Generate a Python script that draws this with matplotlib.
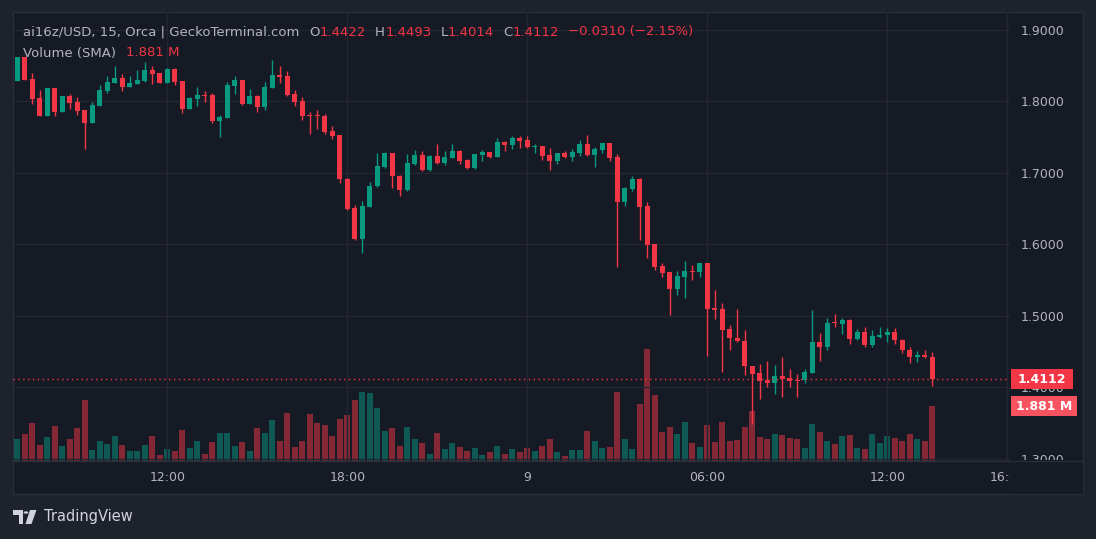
import numpy as np
import pandas as pd
import matplotlib
matplotlib.use("Agg")
import matplotlib.pyplot as plt
from matplotlib.patches import Rectangle, Polygon, Circle

# ai16z/USD 15 min candles, 8th 07:00 -> 9th 13:30
start_time = "2025-01-08 07:00"

opens = [1.8289, 1.8618, 1.8312, 1.8045, 1.7796, 1.8181, 1.7852, 1.8068, 1.7993, 1.7876,
         1.7693, 1.7937, 1.8143, 1.8261, 1.8327, 1.8204, 1.8242, 1.8289, 1.8439, 1.8397,
         1.8261, 1.8453, 1.8280, 1.7890, 1.8031, 1.8087, 1.8087, 1.7726, 1.7768, 1.8219,
         1.8298, 1.7960, 1.8073, 1.7923, 1.8186, 1.8369, 1.8355, 1.8101, 1.8003, 1.7810,
         1.7810, 1.7791, 1.7580, 1.7524, 1.6918, 1.6510, 1.6073, 1.6528, 1.6810, 1.7087,
         1.7270, 1.6960, 1.6754, 1.7129, 1.7242, 1.7035, 1.7228, 1.7134, 1.7204, 1.7298,
         1.7172, 1.7064, 1.7242, 1.7284, 1.7219, 1.7425, 1.7383, 1.7481, 1.7453, 1.7355,
         1.7369, 1.7242, 1.7158, 1.7270, 1.7214, 1.7270, 1.7397, 1.7242, 1.7312, 1.7411,
         1.7214, 1.6594, 1.6777, 1.6918, 1.6538, 1.6003, 1.5693, 1.5608, 1.5369, 1.5538,
         1.5622, 1.5608, 1.5735, 1.5115, 1.5101, 1.4817, 1.4690, 1.4652, 1.4300, 1.4202,
         1.4103, 1.4066, 1.4159, 1.4131, 1.4108, 1.4098, 1.4206, 1.4638, 1.4558, 1.4911,
         1.4882, 1.4948, 1.4671, 1.4779, 1.4587, 1.4709, 1.4728, 1.4779, 1.4666, 1.4526,
         1.4418, 1.4455, 1.4422]
highs = [1.8625, 1.8625, 1.8397, 1.8158, 1.8185, 1.8185, 1.8072, 1.8101, 1.8054, 1.7880,
         1.7993, 1.8228, 1.8350, 1.8491, 1.8378, 1.8350, 1.8439, 1.8547, 1.8491, 1.8400,
         1.8463, 1.8463, 1.8284, 1.8054, 1.8200, 1.8139, 1.8115, 1.7805, 1.8266, 1.8350,
         1.8302, 1.8172, 1.8087, 1.8270, 1.8580, 1.8496, 1.8425, 1.8158, 1.8059, 1.7848,
         1.7876, 1.7820, 1.7650, 1.7528, 1.6922, 1.6552, 1.6608, 1.6876, 1.7270, 1.7284,
         1.7274, 1.6964, 1.7256, 1.7312, 1.7298, 1.7242, 1.7397, 1.7298, 1.7397, 1.7312,
         1.7186, 1.7260, 1.7312, 1.7288, 1.7481, 1.7439, 1.7510, 1.7510, 1.7510, 1.7397,
         1.7373, 1.7341, 1.7274, 1.7298, 1.7327, 1.7453, 1.7524, 1.7355, 1.7415, 1.7415,
         1.7256, 1.6795, 1.6960, 1.6922, 1.6594, 1.6007, 1.5735, 1.5612, 1.5622, 1.5763,
         1.5707, 1.5739, 1.5739, 1.5355, 1.5172, 1.4878, 1.5089, 1.4807, 1.4304, 1.4328,
         1.4371, 1.4314, 1.4427, 1.4258, 1.4188, 1.4258, 1.5075, 1.4765, 1.4976, 1.5019,
         1.4976, 1.4962, 1.4821, 1.4850, 1.4807, 1.4850, 1.4835, 1.4835, 1.4670, 1.4568,
         1.4512, 1.4526, 1.4493]
lows = [1.8285, 1.8300, 1.7960, 1.7790, 1.7790, 1.7796, 1.7848, 1.7890, 1.7810, 1.7327,
        1.7690, 1.7935, 1.8120, 1.8258, 1.8143, 1.8200, 1.8238, 1.8275, 1.8242, 1.8258,
        1.8258, 1.8233, 1.7843, 1.7886, 1.7937, 1.7993, 1.7693, 1.7500, 1.7765, 1.8101,
        1.7951, 1.7956, 1.7852, 1.7881, 1.8183, 1.8261, 1.8078, 1.7937, 1.7740, 1.7543,
        1.7613, 1.7543, 1.7472, 1.6852, 1.6486, 1.6059, 1.5881, 1.6524, 1.6796, 1.7073,
        1.6782, 1.6669, 1.6750, 1.7106, 1.7031, 1.7031, 1.7130, 1.7106, 1.7200, 1.7120,
        1.7060, 1.7050, 1.7162, 1.7200, 1.7215, 1.7298, 1.7327, 1.7341, 1.7350, 1.7270,
        1.7172, 1.7045, 1.7129, 1.7210, 1.7158, 1.7228, 1.7238, 1.7087, 1.7270, 1.7158,
        1.5679, 1.6538, 1.6749, 1.6059, 1.5805, 1.5636, 1.5538, 1.5017, 1.5284, 1.5242,
        1.5496, 1.5538, 1.4439, 1.4960, 1.4214, 1.4526, 1.4640, 1.4178, 1.3483, 1.3840,
        1.4009, 1.3911, 1.3868, 1.4009, 1.3868, 1.4066, 1.4202, 1.4361, 1.4516, 1.4850,
        1.4751, 1.4601, 1.4667, 1.4558, 1.4558, 1.4695, 1.4629, 1.4601, 1.4474, 1.4333,
        1.4347, 1.4414, 1.4014]
closes = [1.8618, 1.8303, 1.8031, 1.7796, 1.8181, 1.7852, 1.8068, 1.7974, 1.7866, 1.7693,
          1.7946, 1.8158, 1.8270, 1.8327, 1.8204, 1.8261, 1.8298, 1.8439, 1.8383, 1.8261,
          1.8453, 1.8275, 1.7890, 1.8040, 1.8087, 1.8073, 1.7726, 1.7777, 1.8228, 1.8298,
          1.7965, 1.8073, 1.7923, 1.8200, 1.8369, 1.8345, 1.8092, 1.7993, 1.7796, 1.7796,
          1.7796, 1.7571, 1.7514, 1.6909, 1.6500, 1.6073, 1.6538, 1.6820, 1.7101, 1.7270,
          1.6951, 1.6754, 1.7143, 1.7242, 1.7035, 1.7228, 1.7134, 1.7214, 1.7298, 1.7162,
          1.7064, 1.7256, 1.7284, 1.7214, 1.7425, 1.7383, 1.7481, 1.7439, 1.7355, 1.7369,
          1.7228, 1.7158, 1.7270, 1.7214, 1.7284, 1.7397, 1.7242, 1.7327, 1.7411, 1.7200,
          1.6594, 1.6791, 1.6918, 1.6524, 1.5989, 1.5679, 1.5594, 1.5369, 1.5552, 1.5622,
          1.5608, 1.5735, 1.5101, 1.5087, 1.4805, 1.4685, 1.4643, 1.4291, 1.4192, 1.4094,
          1.4066, 1.4159, 1.4122, 1.4094, 1.4094, 1.4216, 1.4638, 1.4558, 1.4906, 1.4897,
          1.4948, 1.4671, 1.4779, 1.4587, 1.4723, 1.4737, 1.4779, 1.4657, 1.4516, 1.4418,
          1.4455, 1.4422, 1.4112]
# volume in millions
volumes = [0.75, 0.92, 1.30, 0.55, 0.82, 1.20, 0.51, 0.75, 1.13, 2.09,
           0.38, 0.68, 0.58, 0.86, 0.55, 0.34, 0.34, 0.55, 0.86, 0.21,
           0.41, 0.34, 1.06, 0.44, 0.68, 0.24, 0.65, 0.96, 0.96, 0.51,
           0.65, 0.34, 1.13, 0.96, 1.40, 0.68, 1.64, 0.48, 0.68, 1.61,
           1.30, 1.23, 0.86, 1.44, 1.57, 2.09, 2.36, 2.33, 1.81, 1.03,
           1.13, 0.51, 1.16, 0.75, 0.62, 0.24, 0.96, 0.41, 0.62, 0.48,
           0.34, 0.44, 0.21, 0.31, 0.51, 0.24, 0.41, 0.31, 0.44, 0.34,
           0.51, 0.75, 0.31, 0.17, 0.38, 0.38, 1.03, 0.68, 0.44, 0.48,
           2.36, 0.75, 0.41, 1.95, 3.83, 2.26, 0.99, 1.16, 0.92, 1.33,
           0.62, 0.48, 1.23, 0.65, 1.33, 0.68, 0.72, 1.16, 1.71, 0.82,
           0.75, 0.92, 0.89, 0.79, 0.75, 0.44, 1.27, 0.99, 0.68, 0.58,
           0.86, 0.89, 0.44, 0.41, 0.92, 0.62, 0.86, 0.79, 0.68, 0.92,
           0.75, 0.68, 1.881]

tick_times = ["2025-01-08 12:00", "2025-01-08 18:00", "2025-01-09 00:00",
              "2025-01-09 06:00", "2025-01-09 12:00", "2025-01-09 16:00"]
price_ticks = [1.3, 1.4, 1.5, 1.6, 1.7, 1.8, 1.9]

W, H = 1096, 539
UP = "#089981"
DOWN = "#f23645"
TXT = "#b2b5be"
GRID = "#232632"
BG = "#161a25"
OUTER = "#1e222d"


def fx(px):
    return px / W


def fy(py):
    return 1 - py / H


fig = plt.figure(figsize=(W / 100, H / 100), dpi=100, facecolor=OUTER)
plt.rcParams["font.family"] = ["DejaVu Sans"]

# chart frame
fig.patches.append(Rectangle((fx(13), fy(494)), fx(1083) - fx(13), fy(12) - fy(494),
                             transform=fig.transFigure, facecolor=BG,
                             edgecolor="#2a2e39", lw=1, zorder=-5))

ax = fig.add_axes([fx(13), fy(461), fx(1010) - fx(13), fy(12) - fy(461)])
ax2 = ax.twinx()
ax.set_zorder(ax2.get_zorder() + 1)
ax.patch.set_visible(False)
ax2.patch.set_visible(False)

x = np.arange(len(opens))
o = np.array(opens)
h = np.array(highs)
l = np.array(lows)
c = np.array(closes)
colors = np.where(c >= o, UP, DOWN)

# volume
ax2.bar(x, volumes, width=0.82, color=colors, alpha=0.5, lw=0)
ax2.set_ylim(0, 15.36)
ax2.set_yticks([])

# candles
ax.vlines(x, l, h, colors=colors, lw=1)
body = np.maximum(np.abs(c - o), 0.0014)
ax.bar(x, body, bottom=np.minimum(o, c), width=0.67, color=colors, lw=0)

ax.set_xlim(-0.57, 132.36)
ax.set_ylim(1.2969, 1.9249)

t0 = pd.Timestamp(start_time)
tick_pos = [(pd.Timestamp(t) - t0) / pd.Timedelta("15min") for t in tick_times]
tick_lab = [str(pd.Timestamp(t).day) if pd.Timestamp(t).hour == 0
            else pd.Timestamp(t).strftime("%H:%M") for t in tick_times]

for p in tick_pos:
    ax.axvline(p, color=GRID, lw=1, zorder=0)
for p in price_ticks:
    ax.axhline(p, color=GRID, lw=1, zorder=0)

ax.set_xticks([])
ax.yaxis.tick_right()
ax.set_yticks(price_ticks)
ax.set_yticklabels([f"{p:.4f}" for p in price_ticks])
ax.tick_params(axis="y", length=0, pad=8, labelsize=9, labelcolor=TXT)
for s in ax.spines.values():
    s.set_visible(False)
for s in ax2.spines.values():
    s.set_visible(False)

# last price line
ax.axhline(c[-1], color=DOWN, lw=1, linestyle=(0, (1, 2.5)), zorder=1)

# time axis
tax = fig.add_axes([fx(13), fy(494), fx(1010) - fx(13), fy(461) - fy(494)], zorder=10)
tax.set_facecolor(BG)
tax.set_xlim(ax.get_xlim())
tax.set_ylim(0, 1)
tax.axis("off")
for p, s in zip(tick_pos, tick_lab):
    tax.text(p, 0.5, s, color=TXT, fontsize=9, ha="center", va="center", clip_on=True)
fig.patches.append(Rectangle((fx(1010), fy(494)), fx(1083) - fx(1010), fy(460) - fy(494),
                             transform=fig.transFigure, facecolor=BG, lw=0, zorder=10))
fig.lines.append(plt.Line2D([fx(13), fx(1083)], [fy(461), fy(461)], transform=fig.transFigure,
                            color="#2a2e39", lw=1, zorder=11))

# price / volume labels on the right axis
fig.canvas.draw()
ypx_price = ax.transData.transform((0, c[-1]))[1]
ypx_vol = ax2.transData.transform((0, volumes[-1]))[1]
for ypx, w, col, s in [(ypx_price, 62, DOWN, f"{c[-1]:.4f}"),
                       (ypx_vol, 66, "#f7525f", f"{volumes[-1]:.3f} M")]:
    fig.patches.append(Rectangle((1011 / W, (ypx - 10) / H), w / W, 20 / H,
                                 transform=fig.transFigure, facecolor=col, lw=0, zorder=12))
    fig.text((1011 + w / 2) / W, ypx / H, s, color="white", fontsize=9, fontweight="bold",
             ha="center", va="center", zorder=13)

# header
renderer = fig.canvas.get_renderer()


def chain(parts, px, py, size=9.5):
    for s, col, gap in parts:
        t = fig.text(fx(px), fy(py), s, color=col, fontsize=size, ha="left", va="center")
        px += t.get_window_extent(renderer=renderer).width + gap


def fmt(v):
    return f"{v:.4f}".replace("-", "\u2212")


chg = c[-1] - c[-2]
pct = chg / c[-2] * 100
chain([("ai16z/USD, 15, Orca | GeckoTerminal.com", TXT, 10),
       ("O", TXT, 0), (fmt(o[-1]), DOWN, 9),
       ("H", TXT, 0), (fmt(h[-1]), DOWN, 9),
       ("L", TXT, 0), (fmt(l[-1]), DOWN, 9),
       ("C", TXT, 0), (fmt(c[-1]), DOWN, 9),
       (f"{fmt(chg)} ({pct:.2f}%)".replace("-", "\u2212"), DOWN, 0)], 23, 32)
chain([("Volume (SMA)", TXT, 10), (f"{volumes[-1]:.3f} M", DOWN, 0)], 23, 53)

# TradingView logo
logo = "#d1d4dc"
fig.patches.append(Polygon([(fx(12.5), fy(510)), (fx(23), fy(510)), (fx(23), fy(524)),
                            (fx(19), fy(524)), (fx(19), fy(515)), (fx(12.5), fy(515))],
                           transform=fig.transFigure, facecolor=logo, lw=0))
fig.patches.append(Circle((fx(26), fy(512.5)), 2.4 / W, transform=fig.transFigure,
                          facecolor=logo, lw=0))
fig.patches.append(Polygon([(fx(30), fy(510)), (fx(36.5), fy(510)), (fx(31.5), fy(524)),
                            (fx(25.5), fy(524))],
                           transform=fig.transFigure, facecolor=logo, lw=0))
fig.text(fx(44), fy(517), "TradingView", color=logo, fontsize=10.5, ha="left", va="center")

fig.savefig("out.png", dpi=100, facecolor=OUTER)
